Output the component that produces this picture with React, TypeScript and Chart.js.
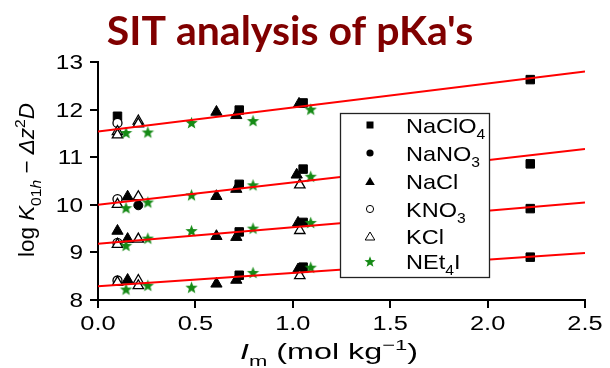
import React, { useEffect, useRef } from 'react';
import { Chart, registerables } from 'chart.js';

Chart.register(...registerables);

// ---------- data ----------
const FIT_X = [0, 2.5];
const FIT_START = [11.54, 10.0, 9.18, 8.29];
const FIT_END = [12.8, 11.17, 10.05, 8.99];

const NACLO4_X = [0.1, 0.725, 1.053, 2.219, 0.725, 1.053, 2.219, 0.725, 1.053, 2.219, 0.725, 1.053, 2.219];
const NACLO4_Y = [11.86, 11.99, 12.14, 12.63, 10.43, 10.75, 10.86, 9.43, 9.63, 9.92, 8.52, 8.69, 8.9];

const NANO3_X = [0.207];
const NANO3_Y = [9.99];

const NACL_X = [0.608, 0.71, 1.032, 0.152, 0.608, 0.71, 1.02, 0.1, 0.152, 0.608, 0.71, 1.027, 0.152, 0.608, 0.71, 1.027];
const NACL_Y = [11.95, 11.88, 12.12, 10.17, 10.18, 10.33, 10.63, 9.45, 9.28, 9.34, 9.32, 9.62, 8.42, 8.34, 8.42, 8.64];

const KNO3_X = [0.1, 0.1, 0.1, 0.1];
const KNO3_Y = [11.72, 10.12, 9.2, 8.41];

const KCL_X = [0.1, 0.1, 0.207, 0.207, 0.1, 0.207, 1.036, 0.1, 0.207, 1.036, 0.1, 0.207, 0.207, 1.036];
const KCL_Y = [11.54, 11.47, 11.76, 11.7, 10.01, 10.17, 10.42, 9.17, 9.28, 9.46, 8.37, 8.41, 8.3, 8.51];

const NET4I_X = [0.144, 0.256, 0.48, 0.796, 1.092, 0.144, 0.256, 0.48, 0.796, 1.092, 0.144, 0.256, 0.48, 0.796, 1.092, 0.144, 0.256, 0.48, 0.796, 1.092];
const NET4I_Y = [11.52, 11.53, 11.73, 11.77, 12.01, 9.94, 10.06, 10.21, 10.42, 10.6, 9.15, 9.3, 9.46, 9.51, 9.63, 8.23, 8.31, 8.27, 8.58, 8.69];

const X_MIN = 0, X_MAX = 2.5, X_STEP = 0.5;
const Y_MIN = 8, Y_MAX = 13, Y_STEP = 1;

const TITLE = "SIT analysis of pKa's";

// ---------- styling ----------
const FONT = '"Liberation Sans", Arial, sans-serif';
const GREEN = '#158a15';
const RED = '#ff0000';

type Seg = { t: string; it?: boolean; sub?: boolean; sup?: boolean };

const LEGEND: { label: Seg[]; kind: string }[] = [
  { label: [{ t: 'NaClO' }, { t: '4', sub: true }], kind: 'square' },
  { label: [{ t: 'NaNO' }, { t: '3', sub: true }], kind: 'dot' },
  { label: [{ t: 'NaCl' }], kind: 'tri' },
  { label: [{ t: 'KNO' }, { t: '3', sub: true }], kind: 'circle' },
  { label: [{ t: 'KCl' }], kind: 'otri' },
  { label: [{ t: 'NEt' }, { t: '4', sub: true }, { t: 'I' }], kind: 'star' },
];

const pts = (xs: number[], ys: number[]) => xs.map((x, i) => ({ x, y: ys[i] }));

function starPath(ctx: CanvasRenderingContext2D, cx: number, cy: number, R: number) {
  const r = R * 0.42;
  ctx.beginPath();
  for (let i = 0; i < 10; i++) {
    const a = -Math.PI / 2 + (i * Math.PI) / 5;
    const rad = i % 2 === 0 ? R : r;
    const px = cx + Math.cos(a) * rad;
    const py = cy + Math.sin(a) * rad;
    if (i === 0) ctx.moveTo(px, py);
    else ctx.lineTo(px, py);
  }
  ctx.closePath();
}

function makeStar(R: number) {
  const c = document.createElement('canvas');
  const s = Math.ceil(R * 2 + 2);
  c.width = s;
  c.height = s;
  const ctx = c.getContext('2d')!;
  starPath(ctx, s / 2, s / 2 + R * 0.1, R);
  ctx.fillStyle = GREEN;
  ctx.fill();
  return c;
}

function segFont(s: Seg, size: number, small = 0.66) {
  const sz = s.sub || s.sup ? Math.round(size * small) : size;
  return `${s.it ? 'italic ' : ''}${sz}px ${FONT}`;
}

function richWidth(ctx: CanvasRenderingContext2D, segs: Seg[], size: number, small = 0.66) {
  let w = 0;
  for (const s of segs) {
    ctx.font = segFont(s, size, small);
    w += ctx.measureText(s.t).width;
  }
  return w;
}

function drawRich(ctx: CanvasRenderingContext2D, segs: Seg[], x: number, y: number, size: number, small = 0.66) {
  let cx = x;
  ctx.textAlign = 'left';
  ctx.textBaseline = 'alphabetic';
  for (const s of segs) {
    ctx.font = segFont(s, size, small);
    const dy = s.sub ? size * 0.3 : s.sup ? -size * 0.42 : 0;
    ctx.fillText(s.t, cx, y + dy);
    cx += ctx.measureText(s.t).width;
  }
}

// draw text horizontally stretched by sx, anchored at x (align) / baseline y
function drawStretched(ctx: CanvasRenderingContext2D, text: string, x: number, y: number, size: number, sx: number, align: CanvasTextAlign) {
  ctx.save();
  ctx.translate(x, y);
  ctx.scale(sx, 1);
  ctx.font = `${size}px ${FONT}`;
  ctx.textAlign = align;
  ctx.textBaseline = 'alphabetic';
  ctx.fillText(text, 0, 0);
  ctx.restore();
}

const decorPlugin = {
  id: 'decor',
  afterDatasetsDraw(chart: any) {
    const ctx: CanvasRenderingContext2D = chart.ctx;
    ctx.save();
    // legend box
    const lx = 340.5, ly = 113.5, lw = 149, lh = 164;
    ctx.fillStyle = '#fff';
    ctx.fillRect(lx, ly, lw, lh);
    ctx.strokeStyle = '#222';
    ctx.lineWidth = 1.3;
    ctx.strokeRect(lx, ly, lw, lh);
    const rows = [125, 153, 181.5, 209, 236.5, 261.5];
    const mx = 370, tx = 406;
    LEGEND.forEach((item, i) => {
      const y = rows[i];
      ctx.fillStyle = '#000';
      ctx.strokeStyle = '#000';
      ctx.lineWidth = 1;
      if (item.kind === 'square') {
        ctx.fillRect(mx - 3.5, y - 3.5, 7, 7);
      } else if (item.kind === 'dot' || item.kind === 'circle') {
        ctx.beginPath();
        ctx.arc(mx, y, 3.6, 0, Math.PI * 2);
        if (item.kind === 'dot') ctx.fill();
        else ctx.stroke();
      } else if (item.kind === 'tri' || item.kind === 'otri') {
        ctx.beginPath();
        ctx.moveTo(mx, y - 4.5);
        ctx.lineTo(mx + 4.8, y + 3.5);
        ctx.lineTo(mx - 4.8, y + 3.5);
        ctx.closePath();
        if (item.kind === 'tri') ctx.fill();
        else ctx.stroke();
      } else if (item.kind === 'star') {
        starPath(ctx, mx, y + 0.5, 5.8);
        ctx.fillStyle = GREEN;
        ctx.fill();
      }
      ctx.fillStyle = '#000';
      ctx.save();
      ctx.translate(tx, y + 7.5);
      ctx.scale(1.12, 1);
      drawRich(ctx, item.label, 0, 0, 21);
      ctx.restore();
    });
    ctx.restore();
  },
  afterDraw(chart: any) {
    const ctx: CanvasRenderingContext2D = chart.ctx;
    ctx.save();
    // title
    ctx.fillStyle = '#800000';
    ctx.font = `bold 41px Lato, "Open Sans", sans-serif`;
    ctx.textAlign = 'center';
    ctx.textBaseline = 'alphabetic';
    ctx.fillText(TITLE, 290, 45);

    // tick labels (values from the library's scales)
    ctx.fillStyle = '#000';
    const xs = chart.scales.x;
    xs.ticks.forEach((t: any) => {
      const px = xs.getPixelForValue(t.value);
      drawStretched(ctx, Number(t.value).toFixed(1), px, 330, 20, 1.27, 'center');
    });
    const ys = chart.scales.y;
    ys.ticks.forEach((t: any) => {
      const py = ys.getPixelForValue(t.value);
      drawStretched(ctx, String(t.value), 83, py + 7, 20, 1.22, 'right');
    });

    // x axis title
    const xl: Seg[] = [
      { t: 'I', it: true },
      { t: 'm', sub: true },
      { t: ' (mol kg' },
      { t: '\u22121', sup: true },
      { t: ')' },
    ];
    const xw = richWidth(ctx, xl, 22, 0.7);
    const xsx = 178 / xw;
    ctx.save();
    ctx.translate(329 - 89, 359);
    ctx.scale(xsx, 1);
    drawRich(ctx, xl, 0, 0, 22, 0.7);
    ctx.restore();

    // y axis title
    const yl: Seg[] = [
      { t: 'log ' },
      { t: 'K', it: true },
      { t: '01', sub: true },
      { t: 'h', sub: true, it: true },
      { t: ' \u2212 ' },
      { t: '\u0394', it: true },
      { t: 'z', it: true },
      { t: '2', sup: true },
      { t: 'D', it: true },
    ];
    const yw = richWidth(ctx, yl, 20, 0.7);
    const ysx = 154 / yw;
    ctx.translate(34, 180);
    ctx.rotate(-Math.PI / 2);
    ctx.scale(ysx, 1.1);
    drawRich(ctx, yl, -yw / 2, 0, 20, 0.7);
    ctx.restore();
  },
};

export default function App() {
  const ref = useRef<HTMLCanvasElement>(null);
  useEffect(() => {
    if (!ref.current) return;
    const star = makeStar(6.5);
    const fitSets = FIT_START.map((s, i) => ({
      type: 'line' as const,
      label: `fit ${i + 1}`,
      data: [
        { x: FIT_X[0], y: s },
        { x: FIT_X[1], y: FIT_END[i] },
      ],
      borderColor: RED,
      borderWidth: 2,
      pointRadius: 0,
      showLine: true,
      fill: false,
      order: 0,
    }));
    const tickStyle = {
      color: 'rgba(0,0,0,0)',
      font: { family: FONT, size: 18 },
      autoSkip: false,
      maxRotation: 0,
    };
    const chart = new Chart(ref.current, {
      type: 'scatter',
      data: {
        datasets: [
          ...fitSets,
          {
            label: 'NEt4I',
            data: pts(NET4I_X, NET4I_Y),
            pointStyle: star as any,
            pointRadius: 7,
            order: 1,
          },
          {
            label: 'KCl',
            data: pts(KCL_X, KCL_Y),
            pointStyle: 'triangle',
            pointRadius: 6,
            backgroundColor: '#fff',
            borderColor: '#000',
            borderWidth: 1.3,
            order: 2,
          },
          {
            label: 'KNO3',
            data: pts(KNO3_X, KNO3_Y),
            pointStyle: 'circle',
            pointRadius: 4.5,
            backgroundColor: '#fff',
            borderColor: '#000',
            borderWidth: 1.3,
            order: 3,
          },
          {
            label: 'NaCl',
            data: pts(NACL_X, NACL_Y),
            pointStyle: 'triangle',
            pointRadius: 6.5,
            backgroundColor: '#000',
            borderColor: '#000',
            borderWidth: 1,
            order: 4,
          },
          {
            label: 'NaNO3',
            data: pts(NANO3_X, NANO3_Y),
            pointStyle: 'circle',
            pointRadius: 4.5,
            backgroundColor: '#000',
            borderColor: '#000',
            borderWidth: 1,
            order: 5,
          },
          {
            label: 'NaClO4',
            data: pts(NACLO4_X, NACLO4_Y),
            pointStyle: 'rect',
            pointRadius: 6,
            backgroundColor: '#000',
            borderColor: '#000',
            borderWidth: 1,
            order: 6,
          },
        ],
      },
      options: {
        responsive: false,
        animation: false,
        events: [],
        layout: { padding: { top: 62, right: 25, left: 0, bottom: 0 } },
        plugins: {
          legend: { display: false },
          title: { display: false },
          tooltip: { enabled: false },
        },
        scales: {
          x: {
            type: 'linear',
            min: X_MIN,
            max: X_MAX,
            ticks: { ...tickStyle, stepSize: X_STEP, padding: 4, callback: (v: any) => Number(v).toFixed(1) },
            grid: { drawOnChartArea: false, drawTicks: true, tickLength: 8, color: '#000', lineWidth: 2 },
            border: { display: true, color: '#000', width: 2 },
            afterFit: (s: any) => {
              s.height = 68;
            },
          },
          y: {
            type: 'linear',
            min: Y_MIN,
            max: Y_MAX,
            ticks: { ...tickStyle, stepSize: Y_STEP, padding: 10, callback: (v: any) => String(v) },
            grid: { drawOnChartArea: false, drawTicks: true, tickLength: 8, color: '#000', lineWidth: 2 },
            border: { display: true, color: '#000', width: 2 },
            afterFit: (s: any) => {
              s.width = 98;
            },
          },
        },
      },
      plugins: [decorPlugin],
    });
    return () => chart.destroy();
  }, []);
  return (
    <canvas
      ref={ref}
      width={610}
      height={368}
      style={{ position: 'absolute', left: 0, top: 0, display: 'block', width: 610, height: 368 }}
    />
  );
}
